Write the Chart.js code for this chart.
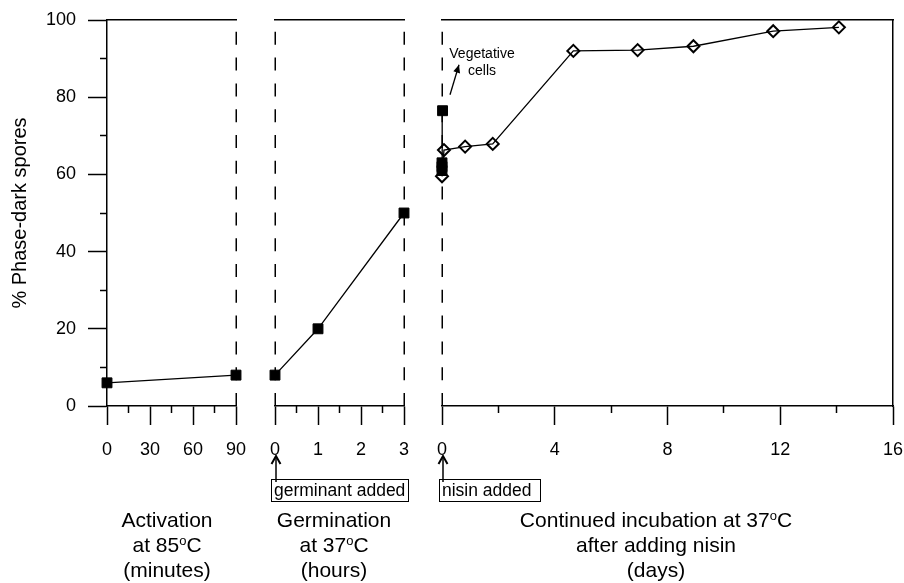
<!DOCTYPE html>
<html>
<head>
<meta charset="utf-8">
<script src="https://cdn.jsdelivr.net/npm/chart.js@4.4.1/dist/chart.umd.min.js"></script>
<style>
html,body{margin:0;padding:0;background:#fff;}
#wrap{position:relative;width:904px;height:583px;overflow:hidden;background:#fff;}
#wrap canvas{position:absolute;left:0;top:0;}
</style>
</head>
<body>
<div id="wrap">
<canvas id="c1" width="904" height="583"></canvas>
<canvas id="c2" width="904" height="583"></canvas>
<canvas id="c3" width="904" height="583"></canvas>
</div>
<script>
// ---------------- data ----------------
const activationMinutes = [0, 90];
const activationPct = [6, 8];

const germinationHours = [0, 1, 3];
const germinationPct = [8, 20, 50];

const nisinSquareDays = [0, 0, 0, 0.02];
const nisinSquarePct = [61, 62, 63, 76.5];

const nisinDiamondDays = [0, 0.07, 0.82, 1.8, 4.66, 6.94, 8.92, 11.75, 14.08];
const nisinDiamondPct = [59.5, 66.3, 67.2, 67.9, 92, 92.2, 93.2, 97.1, 98.1];

// tick labels
const yMajorTicks = [0, 20, 40, 60, 80, 100];
const yMinorTicks = [10, 30, 50, 70, 90];
const activationTicks = [0, 30, 60, 90];
const activationMinor = [15, 45, 75];
const germinationTicks = [0, 1, 2, 3];
const germinationMinor = [0.5, 1.5, 2.5];
const nisinTicks = [0, 4, 8, 12, 16];
const nisinMinor = [2, 6, 10, 14];

// texts
const yTitle = '% Phase-dark spores';
const panel1Title = [['Activation'], ['at 85', {sup: 'o'}, 'C'], ['(minutes)']];
const panel2Title = [['Germination'], ['at 37', {sup: 'o'}, 'C'], ['(hours)']];
const panel3Title = [['Continued incubation at 37', {sup: 'o'}, 'C'], ['after adding nisin'], ['(days)']];

// ---------------- styling helpers ----------------
const FONT = "'Liberation Sans', Arial, Helvetica, sans-serif";
Chart.defaults.font.family = FONT;
Chart.defaults.color = '#000';
const AXIS_W = 1.5;
const DASH = [13, 12.8];
const TOP = 20, BOTTOM = 406, H = 583, W = 904;

function fixedTicks(values) {
  return s => { s.ticks = values.map(v => ({value: v})); };
}
function noPad(s) { s.paddingTop = 0; s.paddingBottom = 0; s.paddingLeft = 0; s.paddingRight = 0; }

function drawRich(ctx, parts, cx, baseline, size) {
  const supSize = Math.round(size * 0.6);
  const items = parts.map(p => typeof p === 'string' ? {t: p, sup: false} : {t: p.sup, sup: true});
  let total = 0;
  items.forEach(it => {
    ctx.font = (it.sup ? supSize : size) + 'px ' + FONT;
    it.w = ctx.measureText(it.t).width;
    total += it.w;
  });
  let x = cx - total / 2;
  ctx.textAlign = 'left';
  ctx.textBaseline = 'alphabetic';
  items.forEach(it => {
    ctx.font = (it.sup ? supSize : size) + 'px ' + FONT;
    ctx.fillText(it.t, x, it.sup ? baseline - size * 0.33 : baseline);
    x += it.w;
  });
}

function upArrow(ctx, x, yFrom, yTo) {
  ctx.lineWidth = 1.5;
  ctx.beginPath();
  ctx.moveTo(x, yFrom);
  ctx.lineTo(x, yTo + 1);
  ctx.stroke();
  ctx.lineWidth = 2;
  ctx.beginPath();
  ctx.moveTo(x - 4.5, yTo + 8);
  ctx.lineTo(x, yTo);
  ctx.lineTo(x + 4.5, yTo + 8);
  ctx.stroke();
}

const annotPlugin = {
  id: 'annot',
  beforeDatasetsDraw(chart, args, opts) {
    const ctx = chart.ctx;
    const area = chart.chartArea;
    ctx.save();
    ctx.strokeStyle = '#000';
    ctx.lineWidth = AXIS_W;
    ctx.setLineDash(DASH);
    (opts.dashed || []).forEach(side => {
      const x = Math.round(side === 'left' ? area.left : area.right) + 0.25;
      ctx.beginPath();
      ctx.moveTo(x, area.bottom);
      ctx.lineTo(x, area.top + 0.5);
      ctx.stroke();
    });
    ctx.restore();
  },
  afterDraw(chart, args, opts) {
    const ctx = chart.ctx;
    const area = chart.chartArea;
    const xs = chart.scales.x, ys = chart.scales.y;
    ctx.save();
    ctx.fillStyle = '#000';
    ctx.strokeStyle = '#000';
    if (opts.title) {
      const cx = (area.left + area.right) / 2 + opts.titleDx;
      opts.title.forEach((line, i) => drawRich(ctx, line, cx, 527 + i * 25, 21));
    }
    if (opts.note) {
      const x0 = xs.getPixelForValue(0);
      const n = opts.note;
      ctx.lineWidth = 1;
      ctx.strokeRect(Math.round(x0 + n.dx) + 0.5, 479.5, n.w, 22);
      ctx.font = '17.5px ' + FONT;
      ctx.textAlign = 'left';
      ctx.textBaseline = 'alphabetic';
      ctx.fillText(n.text, x0 + n.dx + 3, 496);
      upArrow(ctx, x0 + 1, 482, 456);
    }
    if (opts.veg) {
      const px = xs.getPixelForValue(0);
      const py = ys.getPixelForValue(76.5);
      ctx.font = '14px ' + FONT;
      ctx.textAlign = 'center';
      ctx.textBaseline = 'alphabetic';
      ctx.fillText(opts.veg[0], px + 40, py - 53);
      ctx.fillText(opts.veg[1], px + 40, py - 36);
      const tx = px + 8, ty = py - 16, hx = px + 17, hy = py - 46;
      ctx.lineWidth = 1.3;
      ctx.beginPath();
      ctx.moveTo(tx, ty);
      ctx.lineTo(hx, hy);
      ctx.stroke();
      const ang = Math.atan2(hy - ty, hx - tx);
      const L = 8, Wd = 3.5;
      ctx.beginPath();
      ctx.moveTo(hx, hy);
      ctx.lineTo(hx - L * Math.cos(ang) + Wd * Math.sin(ang), hy - L * Math.sin(ang) - Wd * Math.cos(ang));
      ctx.lineTo(hx - L * Math.cos(ang) - Wd * Math.sin(ang), hy - L * Math.sin(ang) + Wd * Math.cos(ang));
      ctx.closePath();
      ctx.fill();
    }
    ctx.restore();
  }
};

function edgeAxis(position, min, max) {
  const horiz = position === 'top' || position === 'bottom';
  return {
    type: 'linear', position, min, max,
    afterFit: s => { noPad(s); if (horiz) s.height = 0; else s.width = 0; },
    grid: {display: false},
    ticks: {display: false},
    border: {display: true, color: '#000', width: AXIS_W}
  };
}

function makePanel(id, p) {
  const scales = {
    x: {
      type: 'linear', position: 'bottom', weight: 1, min: p.xMin, max: p.xMax,
      afterBuildTicks: fixedTicks(p.major),
      afterFit: s => { noPad(s); s.height = H - BOTTOM; },
      grid: {display: true, drawOnChartArea: false, drawTicks: true, tickLength: 19, color: '#000', tickColor: '#000', tickWidth: AXIS_W},
      border: {display: true, color: '#000', width: AXIS_W},
      ticks: {font: {size: 18}, padding: 14, color: '#000', maxRotation: 0, autoSkip: false, callback: v => String(v)}
    },
    xm: {
      type: 'linear', position: 'bottom', weight: 0, min: p.xMin, max: p.xMax,
      afterBuildTicks: fixedTicks(p.minor),
      afterFit: s => { noPad(s); s.height = 0; },
      grid: {display: true, drawOnChartArea: false, drawTicks: true, tickLength: 7, color: '#000', tickColor: '#000', tickWidth: AXIS_W},
      border: {display: false},
      ticks: {display: false}
    },
    xt: edgeAxis('top', p.xMin, p.xMax)
  };
  if (p.rightSolid) scales.yr = edgeAxis('right', 0, 100);
  if (p.showY) {
    scales.y = {
      type: 'linear', position: 'left', weight: 1, min: 0, max: 100,
      afterBuildTicks: fixedTicks(yMajorTicks),
      afterFit: s => { noPad(s); s.width = p.left; },
      grid: {display: true, drawOnChartArea: false, drawTicks: true, tickLength: 19, color: '#000', tickColor: '#000', tickWidth: AXIS_W},
      border: {display: true, color: '#000', width: AXIS_W},
      ticks: {font: {size: 18}, padding: 12, color: '#000', autoSkip: false, callback: v => String(v)},
      title: {display: true, text: yTitle, font: {size: 20}, color: '#000', padding: {top: 8, bottom: 0}}
    };
    scales.ym = {
      type: 'linear', position: 'left', weight: 0, min: 0, max: 100,
      afterBuildTicks: fixedTicks(yMinorTicks),
      afterFit: s => { noPad(s); s.width = 0; },
      grid: {display: true, drawOnChartArea: false, drawTicks: true, tickLength: 7, color: '#000', tickColor: '#000', tickWidth: AXIS_W},
      border: {display: false},
      ticks: {display: false}
    };
  } else {
    scales.y = {type: 'linear', position: 'left', display: false, min: 0, max: 100};
  }

  return new Chart(document.getElementById(id), {
    type: 'line',
    data: {datasets: p.datasets},
    options: {
      responsive: false,
      animation: false,
      events: [],
      layout: {padding: {top: TOP, bottom: 0, left: p.showY ? 0 : p.left, right: W - p.right}},
      plugins: {
        legend: {display: false},
        tooltip: {enabled: false},
        annot: p.annot
      },
      scales
    },
    plugins: [annotPlugin]
  });
}

function pts(xs, ys) { return xs.map((x, i) => ({x, y: ys[i]})); }

const squareStyle = {
  borderColor: '#000', backgroundColor: '#000', borderWidth: 1.3,
  pointStyle: 'rect', pointRadius: 7, pointBorderWidth: 1, pointBackgroundColor: '#000', pointBorderColor: '#000',
  tension: 0, clip: false, xAxisID: 'x', yAxisID: 'y'
};
const diamondStyle = {
  borderColor: '#000', backgroundColor: 'rgba(0,0,0,0)', borderWidth: 1.3,
  pointStyle: 'rectRot', pointRadius: 6, pointBorderWidth: 2, pointBackgroundColor: 'rgba(0,0,0,0)', pointBorderColor: '#000',
  tension: 0, clip: false, xAxisID: 'x', yAxisID: 'y'
};

makePanel('c1', {
  left: 107, right: 236, xMin: 0, xMax: 90, showY: true, rightSolid: false,
  major: activationTicks, minor: activationMinor,
  datasets: [Object.assign({label: 'Activation', data: pts(activationMinutes, activationPct)}, squareStyle)],
  annot: {title: panel1Title, titleDx: -4.5, dashed: ['right']}
});

makePanel('c2', {
  left: 275, right: 404, xMin: 0, xMax: 3, showY: false, rightSolid: false,
  major: germinationTicks, minor: germinationMinor,
  datasets: [Object.assign({label: 'Germination', data: pts(germinationHours, germinationPct)}, squareStyle)],
  annot: {title: panel2Title, titleDx: -5.5, note: {text: 'germinant added', dx: -4, w: 137}, dashed: ['left', 'right']}
});

makePanel('c3', {
  left: 442, right: 893, xMin: 0, xMax: 16, showY: false, rightSolid: true,
  major: nisinTicks, minor: nisinMinor,
  datasets: [
    Object.assign({label: 'Vegetative cells', data: pts(nisinSquareDays, nisinSquarePct)}, squareStyle),
    Object.assign({label: 'Spores with nisin', data: pts(nisinDiamondDays, nisinDiamondPct)}, diamondStyle)
  ],
  annot: {title: panel3Title, titleDx: -11.5, note: {text: 'nisin added', dx: -3, w: 101}, veg: ['Vegetative', 'cells'], dashed: ['left']}
});
</script>
</body>
</html>
